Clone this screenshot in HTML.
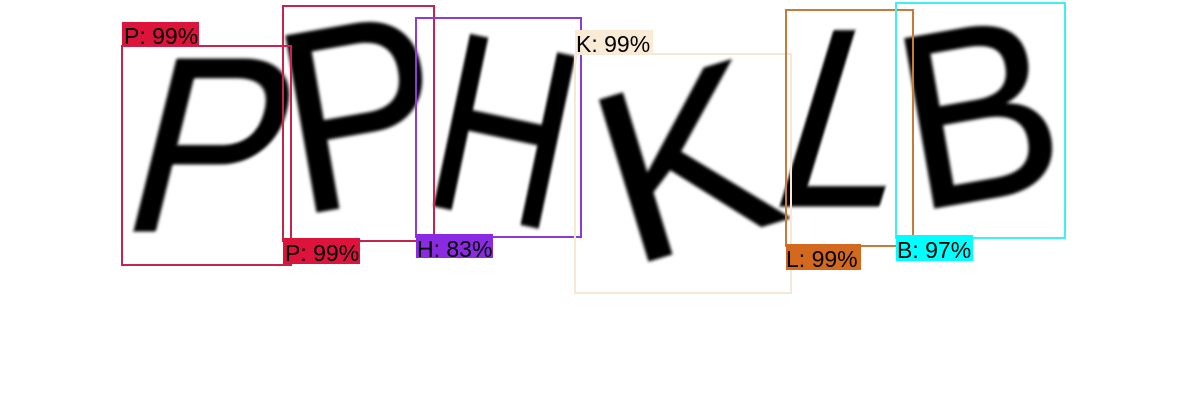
<!DOCTYPE html>
<html><head><meta charset="utf-8"><style>
html,body{margin:0;padding:0;background:#fff;width:1200px;height:420px;overflow:hidden}
svg{display:block}
.g{font-family:"Liberation Sans",sans-serif;fill:#000;stroke:#000;stroke-width:1;text-anchor:middle;filter:url(#bl)}
.lb{font-family:"Liberation Sans",sans-serif;font-size:23px;fill:#000}
</style></head><body>
<svg width="1200" height="420">
<defs><filter id="bl"><feGaussianBlur stdDeviation="1.6"/></filter></defs>
<g>
<text class="g" font-size="250" transform="translate(214,142) skewX(-14) scale(0.92,1)" y="89">P</text>
<text class="g" font-size="260" transform="translate(360,110) rotate(-10) scale(0.92,1)" y="93">P</text>
<text class="g" font-size="255" transform="translate(505,128) rotate(12) scale(0.75,1)" y="91">H</text>
<text class="g" font-size="245" transform="translate(685,158) rotate(-17) scale(1.05,1)" y="88">K</text>
<text class="g" font-size="255" transform="translate(852,115) skewX(-17) scale(0.88,1)" y="91">L</text>
<text class="g" font-size="250" transform="translate(978,110) rotate(-10) scale(0.95,1)" y="89">B</text>
</g>
<g fill="none" stroke-width="2">
<rect x="122" y="46" width="169" height="219" stroke="#c8234a"/>
<rect x="283" y="6" width="151" height="235" stroke="#c8234a"/>
<rect x="416" y="18" width="165" height="219" stroke="#8a3bd8"/>
<rect x="575" y="54" width="216" height="239" stroke="#f5e8d6"/>
<rect x="786" y="10" width="127" height="236" stroke="#c87a3a"/>
<rect x="896" y="3" width="169" height="235" stroke="#3ff0f0"/>
</g>
<g><rect x="122" y="22" width="77" height="24" fill="#dc143c"/><text class="lb" x="124" y="44">P: 99%</text></g>
<g><rect x="283" y="238" width="77" height="26" fill="#dc143c"/><text class="lb" x="285" y="261">P: 99%</text></g>
<g><rect x="416" y="234" width="77" height="24" fill="#8a2be2"/><text class="lb" x="417" y="257">H: 83%</text></g>
<g><rect x="575" y="30" width="78" height="24" fill="#faebd7"/><text class="lb" x="576" y="52">K: 99%</text></g>
<g><rect x="786" y="244" width="75" height="26" fill="#d2691e"/><text class="lb" x="786" y="267">L: 99%</text></g>
<g><rect x="896" y="235" width="77" height="26" fill="#00ffff"/><text class="lb" x="897" y="258">B: 97%</text></g>
</svg>
</body></html>
